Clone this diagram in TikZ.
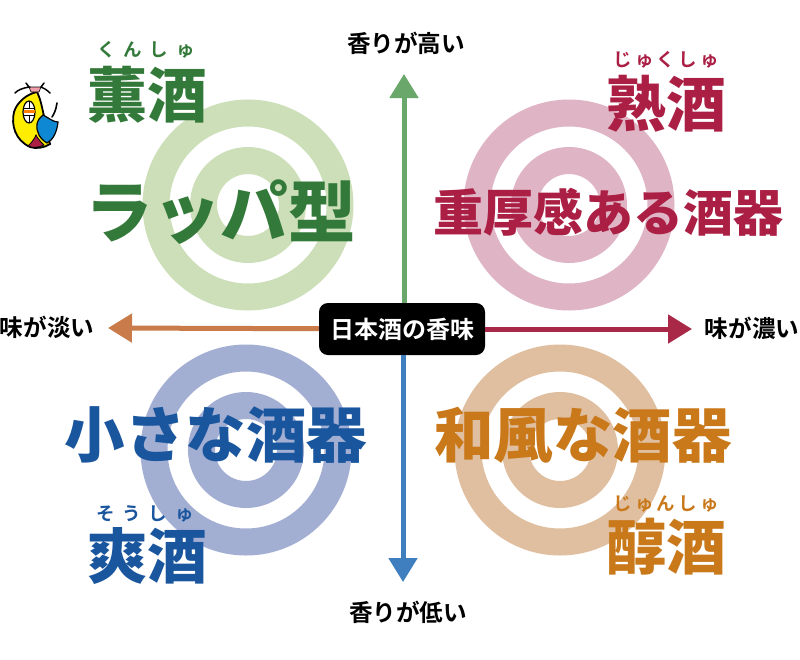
\documentclass[tikz,border=0pt]{standalone}
\usepackage{fontspec}
\setmainfont{Noto Sans CJK JP Bold}
\newfontfamily\heavyfont{Noto Sans CJK JP Black}
\usetikzlibrary{arrows.meta}
\definecolor{grn}{HTML}{337A3A}
\definecolor{grnring}{HTML}{CDDFB9}
\definecolor{grnaxis}{HTML}{6AA76A}
\definecolor{red}{HTML}{AB1F45}
\definecolor{redring}{HTML}{DFB5C5}
\definecolor{redaxis}{HTML}{A92848}
\definecolor{blu}{HTML}{1A569E}
\definecolor{bluring}{HTML}{A3AED3}
\definecolor{bluaxis}{HTML}{3F7FBF}
\definecolor{org}{HTML}{C9781A}
\definecolor{orgring}{HTML}{E0BFA0}
\definecolor{orgaxis}{HTML}{C97C4A}
\tikzset{
  axis/.style={line width=5pt,-{Triangle[length=24pt,width=28pt]}},
  ring/.style={line width=27pt,draw=#1,fill=none},
  big/.style={inner sep=0pt,font=\heavyfont\fontsize{#1}{#1}\selectfont},
  ruby/.style={inner sep=0pt,font=\fontsize{18.5}{19}\selectfont\addfontfeature{LetterSpace=#1}},
  lbl/.style={inner sep=0pt,font=\fontsize{23.6}{24}\selectfont},
}
\begin{document}
\begin{tikzpicture}
    [x=1pt,y=-1pt]
    \useasboundingbox (0,0) rectangle (800,659);
    \fill[white] (0,0) rectangle (800,659);
    % rings
    \foreach \cx/\cy/\col in {248/205/grnring,569/205/redring,246/450/bluring,560/450/orgring}{
      \draw[ring=\col] (\cx,\cy) circle (92);
      \draw[ring=\col] (\cx,\cy) circle (44.5);
    }
    % axes
    \node[fill=black,rounded corners=9pt,minimum width=166pt,minimum height=52pt,inner sep=0pt,text=white,font=\fontsize{24}{24}\selectfont] (core) at (402,329) {日本酒の香味};
    \coordinate (up) at (404,74);
    \coordinate (down) at (403,582);
    \coordinate (lft) at (108,328);
    \coordinate (rgt) at (692,329);
    \draw[axis,grnaxis] (core.north -| up) -- (up);
    \draw[axis,bluaxis] (core.south -| down) -- (down);
    \draw[axis,orgaxis] (core) -- (lft);
    \draw[axis,redaxis] (core) -- (rgt);
    \node[lbl] (lup) at (406,43) {香りが高い};
    \node[lbl] (ldown) at (408,612) {香りが低い};
    \node[lbl] (llft) at (47,327) {味が淡い};
    \node[lbl] (lrgt) at (752,328) {味が濃い};
    % types
    \node[big=60,text=grn] (kun) at (147,95) {薫酒};
    \node[ruby=42,text=grn] (kunr) at (146,50) {くんしゅ};
    \node[big=60,text=red] (juku) at (666,104) {熟酒};
    \node[ruby=17,text=red] (jukur) at (666,60) {じゅくしゅ};
    \node[big=60,text=blu] (sou) at (147,556) {爽酒};
    \node[ruby=42,text=blu] (sour) at (145,514) {そうしゅ};
    \node[big=60,text=org] (jun) at (666,547) {醇酒};
    \node[ruby=17,text=org] (junr) at (666,504) {じゅんしゅ};
    \node[big=67.5,text=grn] (rappa) at (220.5,212) {ラッパ型};
    \node[big=50,text=red] (juko) at (608,212) {重厚感ある酒器};
    \node[big=60.5,text=blu] (chiisa) at (216,435) {小さな酒器};
    \node[big=59.5,text=org] (wafu) at (583,435) {和風な酒器};
    % mascot
    \draw[line width=1.6pt,line cap=round] (57,103) .. controls (56,110) and (54,114) .. (52,117);
    \fill[yellow!95!orange,draw=black,line width=1.8pt] (30,147) .. controls (15,140) and (11,125) .. (14,112) .. controls (17,102) and (27,94) .. (37,92) .. controls (41,100) and (42,108) .. (44,116) -- (50,144) .. controls (44,148) and (36,149) .. (30,147) -- cycle;
    \fill[red,draw=black,line width=.8pt] (28,146) .. controls (32,142) and (35,138) .. (36,135) .. controls (38,139) and (41,142) .. (44,145) .. controls (38,148) and (33,148) .. (28,146) -- cycle;
    \fill[cyan!70!blue,draw=black,line width=1.2pt] (43,115) .. controls (49,118) and (53,122) .. (58,122) .. controls (57,132) and (53,140) .. (47,143) .. controls (40,139) and (36,132) .. (37,124) .. controls (38,120) and (40,117) .. (43,115) -- cycle;
    \fill[pink!80!red,draw=black,line width=.6pt] (29,87) -- (41,87) -- (39,92) -- (31,92) -- cycle;
    \draw[line width=1.5pt,line cap=round] (15,93) .. controls (18,90) and (22,88) .. (30,87) (26,83) -- (29,87) (50,93) .. controls (47,90) and (44,88) .. (41,87) (44,83) -- (41,87);
    \fill[white,draw=black,line width=1.2pt] (29,112) ellipse (6 and 11);
    \fill[orange] (23.5,110) rectangle (34.5,113);
    \draw[line width=1pt] (23,108) -- (35,108) (23,115) -- (35,115) (29,101) -- (29,108) (29,115) -- (29,123);
\end{tikzpicture}
\end{document}
